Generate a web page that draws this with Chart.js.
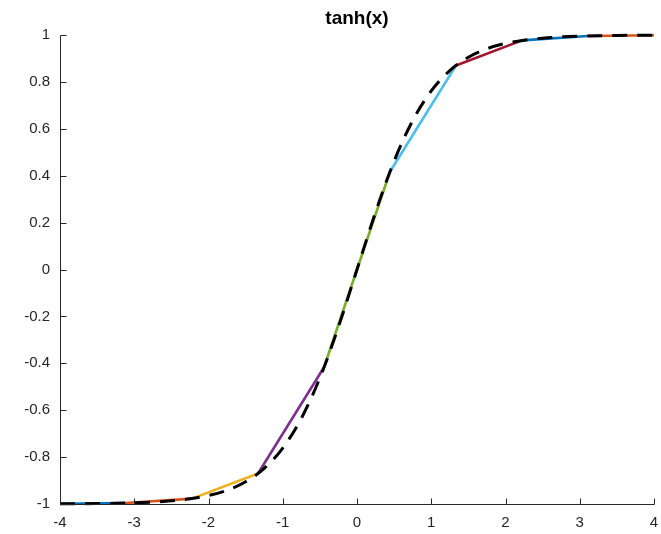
<!DOCTYPE html>
<html>
<head>
<meta charset="utf-8">
<script src="https://cdn.jsdelivr.net/npm/chart.js@4"></script>
<style>
  html, body { margin: 0; padding: 0; background: #fff; }
  #wrap { width: 661px; height: 534px; }
</style>
</head>
<body>
<div id="wrap"><canvas id="c" width="661" height="534"></canvas></div>
<script>
// Piecewise-linear approximation breakpoints
const breakX = [-4, -3.111, -2.222, -1.333, -0.444, 0.444, 1.333, 2.222, 3.111, 4];
const breakY = [-0.999, -0.996, -0.977, -0.870, -0.417, 0.417, 0.870, 0.977, 0.996, 0.999];

// Dashed reference curve tanh(x), values read/estimated
const curveX = [-4, -3.75, -3.5, -3.25, -3, -2.75, -2.5, -2.25, -2, -1.75, -1.5, -1.25, -1, -0.75, -0.5, -0.25,
                0, 0.25, 0.5, 0.75, 1, 1.25, 1.5, 1.75, 2, 2.25, 2.5, 2.75, 3, 3.25, 3.5, 3.75, 4];
const curveY = [-0.9993, -0.9989, -0.9982, -0.9970, -0.9951, -0.9919, -0.9866, -0.9780, -0.9640, -0.9414, -0.9051, -0.8483, -0.7616, -0.6351, -0.4621, -0.2449,
                0, 0.2449, 0.4621, 0.6351, 0.7616, 0.8483, 0.9051, 0.9414, 0.9640, 0.9780, 0.9866, 0.9919, 0.9951, 0.9970, 0.9982, 0.9989, 0.9993];

const xTicks = [-4, -3, -2, -1, 0, 1, 2, 3, 4];
const xTickLabels = ['-4', '-3', '-2', '-1', '0', '1', '2', '3', '4'];
const yTicks = [-1, -0.8, -0.6, -0.4, -0.2, 0, 0.2, 0.4, 0.6, 0.8, 1];
const yTickLabels = ['-1', '-0.8', '-0.6', '-0.4', '-0.2', '0', '0.2', '0.4', '0.6', '0.8', '1'];

const titleText = 'tanh(x)';

const segColors = ['#0072BD', '#D95319', '#EDB120', '#7E2F8E', '#77AC30', '#4DBEEE', '#A2142F', '#0072BD', '#D95319'];
const axisColor = '#262626';
const fontFam = '"Liberation Sans", Arial, Helvetica, sans-serif';

const approxData = breakX.map((x, i) => ({ x: x, y: breakY[i] }));
const curveData = curveX.map((x, i) => ({ x: x, y: curveY[i] }));

const decorations = {
  id: 'decorations',
  afterDatasetsDraw(chart) {
    const ctx = chart.ctx;
    const a = chart.chartArea;
    const xs = chart.scales.x, ys = chart.scales.y;
    const L = Math.round(a.left) + 0.5, B = Math.round(a.bottom) + 0.5;
    const R = Math.round(a.right) + 0.5, T = Math.round(a.top) + 0.5;
    ctx.save();
    ctx.strokeStyle = axisColor;
    ctx.lineWidth = 1;
    ctx.beginPath();
    ctx.moveTo(L, T); ctx.lineTo(L, B); ctx.lineTo(R, B);
    xTicks.forEach(v => {
      const px = Math.round(xs.getPixelForValue(v)) + 0.5;
      ctx.moveTo(px, B); ctx.lineTo(px, B - 6);
    });
    yTicks.forEach(v => {
      const py = Math.round(ys.getPixelForValue(v)) + 0.5;
      ctx.moveTo(L, py); ctx.lineTo(L + 6, py);
    });
    ctx.stroke();
    // title centred over the plot area
    ctx.fillStyle = '#000000';
    ctx.font = 'bold 19px ' + fontFam;
    ctx.textAlign = 'center';
    ctx.textBaseline = 'middle';
    ctx.fillText(titleText, (a.left + a.right) / 2, 19);
    ctx.restore();
  }
};

new Chart(document.getElementById('c'), {
  type: 'line',
  data: {
    datasets: [
      {
        label: 'tanh',
        data: curveData,
        borderColor: '#000000',
        borderWidth: 3,
        borderDash: [15, 10],
        pointRadius: 0,
        cubicInterpolationMode: 'monotone',
        fill: false,
        clip: false,
        order: 0
      },
      {
        label: 'approx',
        data: approxData,
        borderWidth: 2.6,
        borderColor: segColors[0],
        segment: { borderColor: c => segColors[c.p0DataIndex % segColors.length] },
        pointRadius: 0,
        tension: 0,
        fill: false,
        clip: false,
        order: 1
      }
    ]
  },
  options: {
    responsive: false,
    animation: false,
    devicePixelRatio: 1,
    layout: { padding: { left: 0, right: 7, top: 35, bottom: 0 } },
    plugins: {
      legend: { display: false },
      tooltip: { enabled: false },
      title: { display: false }
    },
    scales: {
      x: {
        type: 'linear',
        min: -4, max: 4,
        grid: { display: false, drawTicks: false },
        border: { display: false },
        afterBuildTicks: s => { s.ticks = xTicks.map(v => ({ value: v })); },
        afterFit: s => { s.height = 30; s.paddingRight = 0; s.paddingLeft = 0; },
        ticks: {
          color: axisColor,
          font: { family: fontFam, size: 15 },
          padding: 10,
          maxRotation: 0,
          callback: (v, i) => xTickLabels[i]
        }
      },
      y: {
        type: 'linear',
        min: -1, max: 1,
        grid: { display: false, drawTicks: false },
        border: { display: false },
        afterBuildTicks: s => { s.ticks = yTicks.map(v => ({ value: v })); },
        afterFit: s => { s.width = 60; s.paddingTop = 0; s.paddingBottom = 0; },
        ticks: {
          color: axisColor,
          font: { family: fontFam, size: 15 },
          padding: 10,
          callback: (v, i) => yTickLabels[i]
        }
      }
    }
  },
  plugins: [decorations]
});
</script>
</body>
</html>
